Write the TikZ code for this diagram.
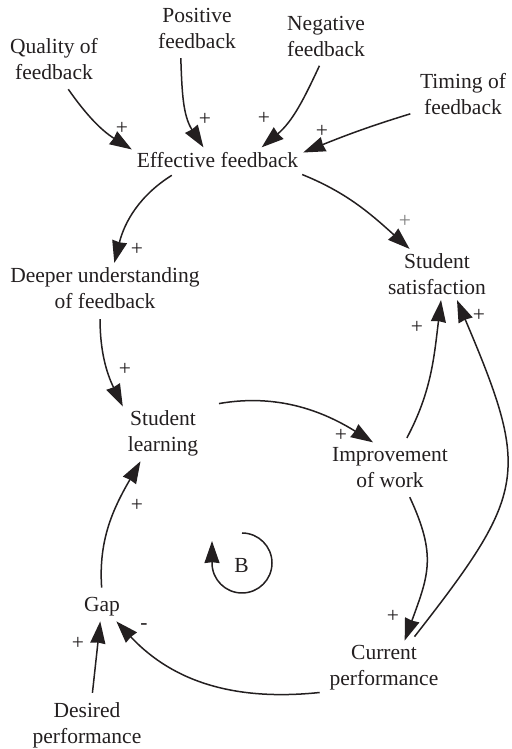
\documentclass[tikz,border=0pt]{standalone}
\usepackage{fontspec}
\setmainfont{Liberation Serif}
\usetikzlibrary{arrows.meta}
\definecolor{ink}{RGB}{35,31,32}
\definecolor{faded}{RGB}{125,125,125}

\begin{document}
\begin{tikzpicture}[x=0.5pt, y=0.5pt,
    >={Stealth[length=11pt, width=7.5pt, inset=0.4pt]},
    var/.style={font=\fontsize{10.75}{13}\selectfont, text=ink, align=center, inner sep=2pt, outer sep=0.5pt},
    sign/.style={font=\fontsize{10.75}{13}\selectfont, text=ink, inner sep=0pt},
    link/.style={->, draw=ink, line width=0.75pt, shorten <=2.5pt}]

    \useasboundingbox (0,0) rectangle (512,749);

    % Variables
    \node[var] (quality) at (54,689.5) {Quality of\\feedback};
    \node[var] (positive) at (197,721) {Positive\\feedback};
    \node[var] (negative) at (326,713) {Negative\\feedback};
    \node[var] (timing) at (463,655) {Timing of\\feedback};
    \node[var] (effective) at (217.5,589) {Effective feedback};
    \node[var] (deeper) at (105,460.5) {Deeper understanding\\of feedback};
    \node[var] (satisfaction) at (437,474.5) {Student\\satisfaction};
    \node[var] (learning) at (163,315.5) {Student\\learning};
    \node[var] (improvement) at (390,281.5) {Improvement\\of work};
    \node[var] (gap) at (102,142) {Gap};
    \node[var] (desired) at (87,23.5) {Desired\\performance};
    \node[var] (current) at (384,81) {Current\\performance};
    \node[var] (loopB) at (241.5,184) {B};

    % Causal links into effective feedback
    \draw[link] (quality.-66) to[out=-55, in=148] (effective.173);
    \draw[link] (positive.-123) to[out=-88, in=123] (effective.138);
    \draw[link] (negative.-100) to[out=-115, in=40] (effective.16);
    \draw[link] (timing.201) to[out=197, in=22] (effective.5);

    % Feedback to learning and satisfaction
    \draw[link] (effective.197) to[out=212, in=76] (deeper.70);
    \draw[link] (effective.-9) to[out=-22, in=138] (satisfaction.137);
    \draw[link] (deeper.-101) to[out=-90, in=116] (learning.146);
    \draw[link, shorten <=8pt] (learning.34) to[out=10, in=148] (improvement.124);
    \draw[link] (improvement.60) to[out=62, in=-97] (satisfaction.-81);
    \draw[link] (current.45) to[out=52, in=-67, looseness=1.4] (satisfaction.-52);

    % Balancing loop
    \draw[link] (improvement.-55) to[out=-65, in=70, looseness=1.2] (current.53);
    \draw[link] (current.202) to[out=186, in=-47] (gap.-45);
    \draw[link] (gap.90) to[out=94, in=-120] (learning.-129);
    \draw[link] (desired.80) -- (gap.-97);
    \draw[link, shorten <=0pt] (loopB.center) ++(0.5,32) arc[start angle=90, end angle=-180, radius=30] -- ++(0,22);

    % Link polarities
    \node[sign] (pQuality) at (122,621) {+};
    \node[sign] (pPositive) at (205,630) {+};
    \node[sign] (pNegative) at (264,631) {+};
    \node[sign] (pTiming) at (322,618) {+};
    \node[sign] (pDeeper) at (137,500) {+};
    \node[sign, text=faded] (pSatisfaction) at (405,528) {+};
    \node[sign] (pLearning) at (125,380) {+};
    \node[sign] (pImprovement) at (341,314) {+};
    \node[sign] (pWork) at (417,422) {+};
    \node[sign] (pCurrent) at (479,434) {+};
    \node[sign] (pPerformance) at (393,133) {+};
    \node[sign] (pGap) at (144,122) {-};
    \node[sign] (pStudent) at (137,244) {+};
    \node[sign] (pDesired) at (78,106) {+};

\end{tikzpicture}
\end{document}
